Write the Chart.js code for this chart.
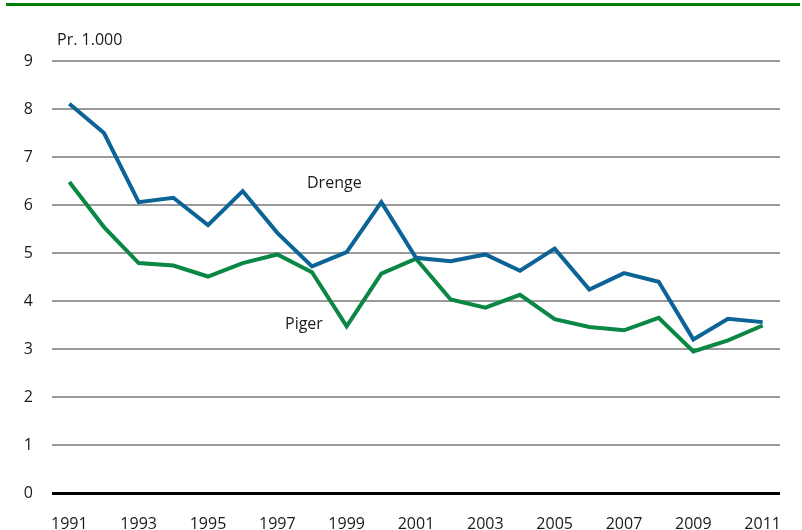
<!DOCTYPE html>
<html>
<head>
<meta charset="utf-8">
<script src="https://cdn.jsdelivr.net/npm/chart.js@4"></script>
<style>
  html, body { margin: 0; padding: 0; background: #fff; }
  #wrap { width: 802px; height: 530px; position: relative; }
</style>
</head>
<body>
<div id="wrap"><canvas id="chart"></canvas></div>
<script>
// data
const years = ['1991','1992','1993','1994','1995','1996','1997','1998','1999','2000',
  '2001','2002','2003','2004','2005','2006','2007','2008','2009','2010','2011'];
const drenge = [8.11, 7.50, 6.06, 6.15, 5.58, 6.29, 5.42, 4.72, 5.02, 6.06,
  4.90, 4.83, 4.97, 4.63, 5.09, 4.24, 4.58, 4.40, 3.20, 3.63, 3.56];
const piger = [6.48, 5.54, 4.79, 4.74, 4.51, 4.79, 4.97, 4.60, 3.47, 4.57,
  4.88, 4.03, 3.86, 4.13, 3.62, 3.46, 3.39, 3.65, 2.95, 3.18, 3.49];
const yTicks = [0, 1, 2, 3, 4, 5, 6, 7, 8, 9];

const FONT = "'Open Sans', sans-serif";
const BLUE = '#0b6396';
const GREEN = '#0a8744';

// extra text + the green rule at the top
const decorations = {
  id: 'decorations',
  afterDraw(chart) {
    const ctx = chart.ctx;
    const x = chart.scales.x, y = chart.scales.y;
    ctx.save();
    ctx.fillStyle = '#00800a';
    ctx.fillRect(6, 3, 794, 3);
    ctx.fillStyle = '#1a1a1a';
    ctx.font = '16px ' + FONT;
    ctx.textBaseline = 'middle';
    ctx.textAlign = 'left';
    ctx.fillText('Pr. 1.000', 57, 40);
    ctx.fillText('Drenge', 307, 183);
    ctx.fillText('Piger', 285, 324);
    ctx.restore();
  }
};

const ctx = document.getElementById('chart').getContext('2d');
new Chart(ctx, {
  type: 'line',
  data: {
    labels: years,
    datasets: [
      { label: 'Drenge', data: drenge, borderColor: BLUE, borderWidth: 4, pointRadius: 0, tension: 0 },
      { label: 'Piger', data: piger, borderColor: GREEN, borderWidth: 4, pointRadius: 0, tension: 0 }
    ]
  },
  options: {
    responsive: true,
    maintainAspectRatio: false,
    animation: false,
    layout: { padding: { top: 61, right: 22, left: 0, bottom: 0 } },
    plugins: { legend: { display: false }, tooltip: { enabled: false } },
    scales: {
      x: {
        offset: true,
        grid: { display: false },
        border: { display: false },
        afterFit(scale) { scale.height = 37; },
        ticks: {
          autoSkip: false,
          maxRotation: 0,
          padding: 14,
          color: '#1a1a1a',
          font: { family: FONT, size: 16 },
          callback(val, i) { return i % 2 === 0 ? years[i] : ''; }
        }
      },
      y: {
        min: 0,
        max: 9,
        afterBuildTicks(scale) { scale.ticks = yTicks.map(v => ({ value: v })); },
        afterFit(scale) { scale.width = 52; },
        border: { display: false },
        grid: {
          drawTicks: false,
          color: c => c.tick && c.tick.value === 0 ? '#000' : '#9a9a9a',
          lineWidth: c => c.tick && c.tick.value === 0 ? 3 : 2
        },
        ticks: {
          padding: 19,
          color: '#1a1a1a',
          font: { family: FONT, size: 16 }
        }
      }
    }
  },
  plugins: [decorations]
});
</script>
</body>
</html>
